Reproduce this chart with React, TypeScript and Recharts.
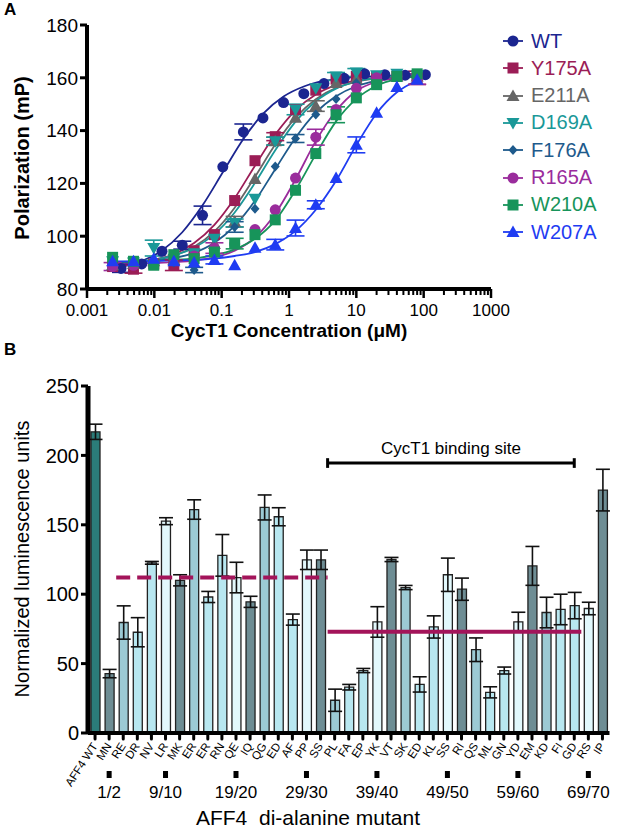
import {
  ComposedChart,
  BarChart,
  Bar,
  Cell,
  Line,
  Scatter,
  XAxis,
  YAxis,
  ErrorBar,
  ReferenceLine,
} from 'recharts';

// ---- panel A: polarization titration ----
const DIL = [0.0024, 0.0049, 0.0098, 0.0195, 0.039, 0.078, 0.156, 0.3125, 0.625, 1.25, 2.5, 5, 10, 20, 40, 80];
const WT_CONC = [0.0032, 0.0065, 0.013, 0.026, 0.052, 0.104, 0.21, 0.41, 0.83, 1.66, 3.3, 6.6, 13.3, 26.5, 53, 106];

const WT_PTS = [87.8, 89.5, 94.3, 96.6, 107.9, 126.3, 139.5, 144.8, 150.6, 154, 157.8, 159.8, 161.5, 161.2, 161, 161.2];
const WT_ERR = [1.5, 0, 0, 1.5, 3.5, 0, 3, 0, 0, 0, 0, 0, 0, 0, 0, 0];
const WT_FIT = [88.3, 90.6, 94.6, 101.5, 111.7, 124.2, 136.8, 146.3, 152.9, 156.7, 158.8, 159.9, 160.4, 160.7, 160.9, 161];

const Y175A_PTS = [88.5, 87.5, 89.5, 89, 94.5, 100.6, 113.5, 128.6, 137.7, 148, 155.3, 159.5, 160.5, 160.5, 160.5, 160];
const Y175A_ERR = [0, 1.5, 0, 2, 0, 0, 0, 0, 1.5, 0, 0, 0, 0, 0, 0, 2.5];
const Y175A_FIT = [89.1, 89.7, 91, 93.2, 97.4, 104.3, 114.4, 126.7, 138.5, 147.7, 153.7, 157.2, 159, 160, 160.5, 160.7];

const E211A_PTS = [89, 89.5, 90.5, 91, 93, 97, 105.5, 121.7, 136, 144.9, 149.3, 158, 159.5, 160, 160.5, 160.5];
const E211A_ERR = [0, 0, 0, 0, 0, 0, 2, 0, 1.5, 0, 2, 0, 0, 0, 0, 0];
const E211A_FIT = [89.5, 90, 90.9, 92.7, 96, 101.8, 110.8, 122.5, 134.7, 144.9, 151.9, 156.2, 158.5, 159.7, 160.4, 160.7];

const D169A_PTS = [90.5, 90, 95.5, 91.5, 93.5, 99, 105, 114.2, 136, 148, 156, 160.5, 162, 161, 161.5, 161];
const D169A_ERR = [0, 0, 3, 0, 0, 0, 1.5, 0, 1.5, 2, 0, 1.5, 1.5, 0, 0, 0];
const D169A_FIT = [89.9, 90.3, 91.1, 92.7, 95.6, 100.8, 109, 120.2, 132.6, 143.4, 151.1, 155.9, 158.6, 160, 160.8, 161.1];

const F176A_PTS = [89, 89, 89.5, 90, 87.2, 96, 103.5, 110.4, 126.4, 137, 146.1, 152, 158, 160, 160.5, 160];
const F176A_ERR = [0, 0, 0, 0, 1, 0, 2, 0, 0, 1.5, 0, 0, 0, 0, 0, 0];
const F176A_FIT = [89.8, 90.1, 90.6, 91.7, 93.7, 97.5, 103.9, 113.4, 125.4, 137.3, 146.8, 153, 156.8, 158.8, 159.9, 160.5];

const R165A_PTS = [88.5, 89, 90, 92, 92.5, 95.5, 97, 102.5, 110, 122, 137.5, 148, 156, 160, 160.5, 159.5];
const R165A_ERR = [1.5, 0, 0, 0, 0, 2, 0, 0, 0, 0, 3, 0, 0, 0, 0, 2];
const R165A_FIT = [89.5, 89.6, 89.8, 90.2, 90.8, 92, 94.5, 99.5, 108.5, 121.5, 136, 147.5, 155, 158.5, 160, 160.5];

const W210A_PTS = [92, 90.5, 89, 93, 91.5, 94, 97.2, 100.6, 106.2, 117.4, 131.3, 146, 152.4, 157.4, 160.5, 161.5];
const W210A_ERR = [0, 0, 0, 0, 0, 0, 2, 0, 0, 0, 0, 3, 0, 0, 0, 0];
const W210A_FIT = [90.3, 90.4, 90.6, 91, 91.6, 92.8, 95, 99, 106, 117.5, 131, 143.5, 152, 157, 159.5, 160.5];

const W207A_PTS = [90.5, 90.5, 91.5, 90.5, 90, 91, 89, 95.6, 96.8, 103.1, 111.9, 122, 134.6, 146.8, 156.5, 159.3];
const W207A_ERR = [0, 0, 0, 0, 0, 1.5, 0, 0, 2, 3, 1.5, 0, 3, 0, 0, 0];
const W207A_FIT = [90.5, 90.5, 90.6, 90.8, 91, 91.5, 92.5, 94, 97, 102, 110, 121, 134.5, 146.5, 154.5, 159];

const MAJOR_TICKS = [0.001, 0.01, 0.1, 1, 10, 100, 1000];
const Y_TICKS_A = [80, 100, 120, 140, 160, 180];

// ---- panel B: luminescence bars ----
const MUTANTS = ['AFF4 WT', 'MN', 'RE', 'DR', 'NV', 'LR', 'MK', 'ER', 'ER', 'RN', 'QE', 'IQ', 'QG', 'ED', 'AF', 'PP', 'SS',
  'PL', 'FA', 'EP', 'YK', 'VT', 'SK', 'ED', 'KL', 'SS', 'RI', 'QS', 'ML', 'GN', 'YD', 'EM', 'KD', 'FI', 'GD', 'RS', 'IP'];
const LUM = [217, 42.8, 79.6, 72.6, 122.6, 152.6, 110, 161, 98, 128, 112, 94.5, 162.5, 155.8, 81.7, 124.8, 124.8,
  23.6, 33, 45, 80, 125, 104.8, 35, 76.4, 114, 103.6, 60, 29.3, 45, 80, 120.4, 86.8, 89, 91.8, 89.7, 175];
const LUM_ERR = [5.5, 3, 12, 10.5, 1, 2.5, 4, 7, 4, 15, 11, 4, 9, 6.5, 4, 7, 7,
  8, 2, 1.5, 11, 1.5, 1.5, 5.5, 8, 12, 8, 8.5, 4, 2.5, 7, 14, 11, 11, 9.5, 4.5, 15];
const GROUP_IDX = [1, 5, 10, 15, 20, 25, 30, 35];
const GROUP_LABELS = ['1/2', '9/10', '19/20', '29/30', '39/40', '49/50', '59/60', '69/70'];
const Y_TICKS_B = [0, 50, 100, 150, 200, 250];
const OUTSIDE_MEAN = 112;
const SITE_MEAN = 73;

const FONT = '"Liberation Sans", Arial, sans-serif';
const SHADES = ['#6e8d94', '#9ccad4', '#b8e7f0', '#b8e7f0', '#e2f8fc'];
const WT_BAR = '#2b7c79';
const MEAN_COLOR = '#a3145a';

const mk = (conc, pts, err, fit) => ({
  points: conc.map((c, i) => ({ c, v: pts[i], e: err[i] ? err[i] : null })),
  fit: conc.map((c, i) => ({ c, v: fit[i] })),
});

const SERIES = [
  { name: 'WT', color: '#1b2590', kind: 'circle', ...mk(WT_CONC, WT_PTS, WT_ERR, WT_FIT) },
  { name: 'Y175A', color: '#9b1d56', kind: 'square', ...mk(DIL, Y175A_PTS, Y175A_ERR, Y175A_FIT) },
  { name: 'E211A', color: '#666666', kind: 'triangle', ...mk(DIL, E211A_PTS, E211A_ERR, E211A_FIT) },
  { name: 'D169A', color: '#1a9898', kind: 'down', ...mk(DIL, D169A_PTS, D169A_ERR, D169A_FIT) },
  { name: 'F176A', color: '#1e5a8c', kind: 'diamond', ...mk(DIL, F176A_PTS, F176A_ERR, F176A_FIT) },
  { name: 'R165A', color: '#9a2c9c', kind: 'circle', ...mk(DIL, R165A_PTS, R165A_ERR, R165A_FIT) },
  { name: 'W210A', color: '#17945a', kind: 'square', ...mk(DIL, W210A_PTS, W210A_ERR, W210A_FIT) },
  { name: 'W207A', color: '#1f3cf2', kind: 'triangle', ...mk(DIL, W207A_PTS, W207A_ERR, W207A_FIT) },
];

const ALL_TICKS_A = [];
MAJOR_TICKS.forEach((m, i) => {
  ALL_TICKS_A.push(m);
  if (i < MAJOR_TICKS.length - 1) for (let k = 2; k <= 9; k++) ALL_TICKS_A.push(+(m * k).toPrecision(3));
});

const barData = MUTANTS.map((name, idx) => ({ idx, name, v: LUM[idx], e: LUM_ERR[idx] }));

const Marker = ({ kind, cx, cy, color }) => {
  if (cx == null || cy == null) return null;
  switch (kind) {
    case 'circle':
      return <circle cx={cx} cy={cy} r={5.5} fill={color} />;
    case 'square':
      return <rect x={cx - 5.5} y={cy - 5.5} width={11} height={11} fill={color} />;
    case 'triangle':
      return <polygon points={`${cx},${cy - 6.5} ${cx + 6.5},${cy + 5} ${cx - 6.5},${cy + 5}`} fill={color} />;
    case 'down':
      return <polygon points={`${cx},${cy + 6.5} ${cx + 6.5},${cy - 5} ${cx - 6.5},${cy - 5}`} fill={color} />;
    default:
      return <polygon points={`${cx},${cy - 5} ${cx + 4.5},${cy} ${cx},${cy + 5} ${cx - 4.5},${cy}`} fill={color} />;
  }
};

const LogTick = ({ x, y, payload }) => {
  const v = payload.value;
  const major = MAJOR_TICKS.includes(v);
  return (
    <g>
      <line x1={x} x2={x} y1={y} y2={y + (major ? 9 : 6)} stroke="#000" strokeWidth={major ? 2.5 : 2} />
      {major && (
        <text x={x} y={y + 27} textAnchor="middle" fontSize={17} fontFamily={FONT} fill="#000">
          {String(v)}
        </text>
      )}
    </g>
  );
};

const MutantTick = ({ x, y, payload }) => {
  const idx = payload.value;
  const g = GROUP_IDX.indexOf(idx);
  return (
    <g>
      <line x1={x} x2={x} y1={y} y2={y + 6} stroke="#000" strokeWidth={3} strokeLinecap="round" />
      <text
        x={x + 3}
        y={y + 13}
        textAnchor="end"
        fontSize={11.5}
        fontFamily={FONT}
        fill="#000"
        transform={`rotate(-57, ${x + 3}, ${y + 13})`}
      >
        {MUTANTS[idx]}
      </text>
      {g >= 0 && (
        <>
          <rect x={x - 2.5} y={y + 38} width={5} height={7} fill="#000" />
          <text x={x} y={y + 65} textAnchor="middle" fontSize={17} fontFamily={FONT} fill="#000">
            {GROUP_LABELS[g]}
          </text>
        </>
      )}
    </g>
  );
};

const abs = (left, top, extra = {}) => ({ position: 'absolute', left, top, whiteSpace: 'nowrap', ...extra });

export default function App() {
  return (
    <div style={{ position: 'absolute', left: 0, top: 0, width: 617, height: 833, background: '#fff', fontFamily: FONT, overflow: 'hidden' }}>
      <div style={abs(4, 0, { fontSize: 17, fontWeight: 'bold' })}>A</div>
      <div style={abs(4, 340, { fontSize: 17, fontWeight: 'bold' })}>B</div>

      {/* panel A */}
      <div style={abs(0, 0)}>
        <ComposedChart width={530} height={333} margin={{ top: 25, right: 39, bottom: 0, left: 0 }}>
          <XAxis
            dataKey="c"
            type="number"
            scale="log"
            domain={[0.001, 1000]}
            ticks={ALL_TICKS_A}
            interval={0}
            allowDataOverflow
            height={44}
            tickSize={0}
            tickMargin={0}
            tickLine={false}
            axisLine={{ stroke: '#000', strokeWidth: 4 }}
            tick={<LogTick />}
          />
          <YAxis
            type="number"
            domain={[80, 180]}
            ticks={Y_TICKS_A}
            width={87}
            tickSize={7}
            axisLine={{ stroke: '#000', strokeWidth: 4 }}
            tickLine={{ stroke: '#000', strokeWidth: 3 }}
            tick={{ fontSize: 19, fill: '#000', fontFamily: FONT }}
          />
          {SERIES.map((s) => (
            <Line
              key={`fit-${s.name}`}
              data={s.fit}
              dataKey="v"
              type="monotone"
              stroke={s.color}
              strokeWidth={1.8}
              dot={false}
              isAnimationActive={false}
            />
          ))}
          {SERIES.map((s) => (
            <Scatter
              key={`pts-${s.name}`}
              data={s.points}
              dataKey="v"
              isAnimationActive={false}
              shape={(p) => <Marker kind={s.kind} cx={p.cx} cy={p.cy} color={s.color} />}
            >
              <ErrorBar dataKey="e" direction="y" width={9} stroke={s.color} strokeWidth={1.6} />
            </Scatter>
          ))}
        </ComposedChart>
      </div>
      <div style={abs(22, 158, { transform: 'translate(-50%, -50%) rotate(-90deg)', fontSize: 20, fontWeight: 'bold' })}>
        Polarization (mP)
      </div>
      <div style={abs(289, 330, { transform: 'translate(-50%, -50%)', fontSize: 19, fontWeight: 'bold', lineHeight: 1 })}>
        CycT1 Concentration (μM)
      </div>

      {/* legend A */}
      {SERIES.map((s, i) => (
        <div key={`lg-${s.name}`} style={abs(501, 41 + i * 27.3 - 13, { display: 'flex', alignItems: 'center', height: 26 })}>
          <svg width={26} height={16}>
            <line x1={2} x2={22} y1={8} y2={8} stroke={s.color} strokeWidth={1.8} />
            <Marker kind={s.kind} cx={12} cy={8} color={s.color} />
          </svg>
          <span style={{ color: s.color, fontSize: 20, marginLeft: 4 }}>{s.name}</span>
        </div>
      ))}

      {/* panel B */}
      <div style={abs(0, 340)}>
        <BarChart width={617} height={493} data={barData} margin={{ top: 46, right: 7.5, bottom: 0, left: 0 }}>
          <XAxis
            dataKey="idx"
            type="number"
            domain={[-0.5, 36.5]}
            ticks={barData.map((d) => d.idx)}
            interval={0}
            height={100}
            tickSize={0}
            tickMargin={0}
            tickLine={false}
            axisLine={{ stroke: '#000', strokeWidth: 4 }}
            tick={<MutantTick />}
          />
          <YAxis
            type="number"
            domain={[0, 250]}
            ticks={Y_TICKS_B}
            width={88}
            tickSize={7}
            axisLine={{ stroke: '#000', strokeWidth: 5 }}
            tickLine={{ stroke: '#000', strokeWidth: 3 }}
            tick={{ fontSize: 20, fill: '#000', fontFamily: FONT }}
          />
          <Bar dataKey="v" barSize={9} stroke="#222" strokeWidth={1.3} isAnimationActive={false}>
            {barData.map((d) => (
              <Cell key={`c-${d.idx}`} fill={d.idx === 0 ? WT_BAR : SHADES[(d.idx - 1) % 5]} />
            ))}
            <ErrorBar dataKey="e" direction="y" width={7} stroke="#111" strokeWidth={1.6} />
          </Bar>
          <ReferenceLine
            segment={[{ x: 1.5, y: OUTSIDE_MEAN }, { x: 16.5, y: OUTSIDE_MEAN }]}
            stroke={MEAN_COLOR}
            strokeWidth={4}
            strokeDasharray="14 7"
          />
          <ReferenceLine
            segment={[{ x: 16.5, y: SITE_MEAN }, { x: 34.5, y: SITE_MEAN }]}
            stroke={MEAN_COLOR}
            strokeWidth={4}
          />
          <ReferenceLine
            segment={[{ x: 16.5, y: 194.5 }, { x: 34, y: 194.5 }]}
            stroke="#000"
            strokeWidth={3}
            label={{ value: 'CycT1 binding site', position: 'top', offset: 9, fontSize: 17, fill: '#000', fontFamily: FONT }}
          />
          <ReferenceLine segment={[{ x: 16.5, y: 191 }, { x: 16.5, y: 198 }]} stroke="#000" strokeWidth={3} />
          <ReferenceLine segment={[{ x: 34, y: 191 }, { x: 34, y: 198 }]} stroke="#000" strokeWidth={3} />
        </BarChart>
      </div>
      <div style={abs(22, 559, { transform: 'translate(-50%, -50%) rotate(-90deg)', fontSize: 20 })}>
        Normalized luminescence units
      </div>
      <div style={abs(308, 818, { transform: 'translate(-50%, -50%)', fontSize: 21 })}>
        AFF4&nbsp;&nbsp;di-alanine mutant
      </div>
    </div>
  );
}
